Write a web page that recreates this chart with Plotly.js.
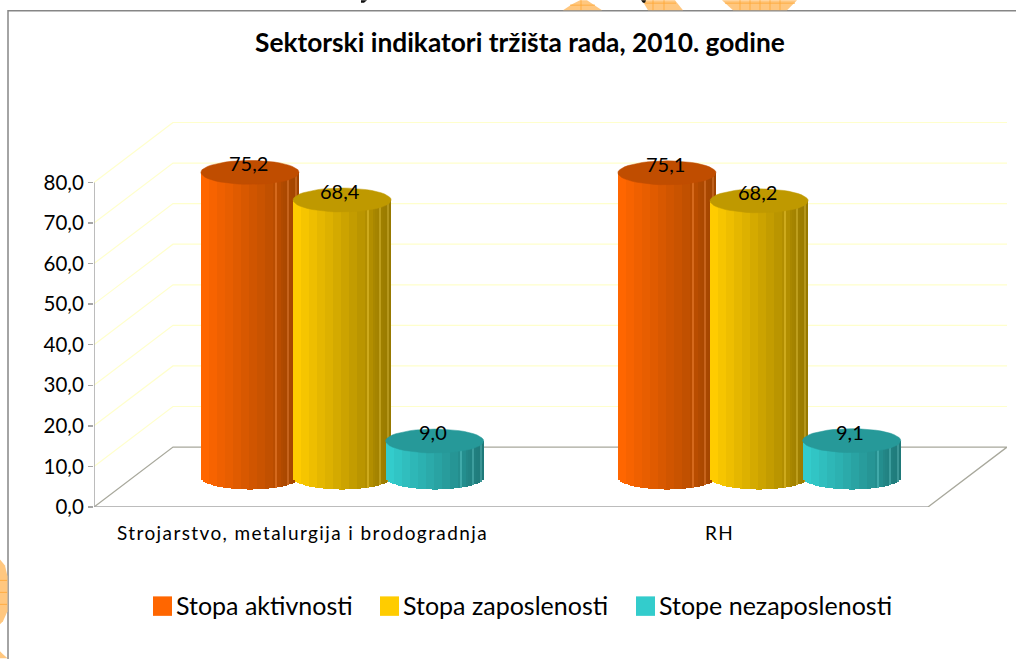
<!DOCTYPE html>
<html><head><meta charset="utf-8">
<script src="https://cdn.plot.ly/plotly-3.0.1.min.js"></script>
<style>
html,body{margin:0;padding:0;background:#fff;overflow:hidden}
.xtick text{letter-spacing:1.4px}
</style></head><body><div id="chart" style="width:1016px;height:659px"></div>
<script>
const categories = ["Strojarstvo, metalurgija i brodogradnja", "RH"];
const seriesNames = ["Stopa aktivnosti", "Stopa zaposlenosti", "Stope nezaposlenosti"];
const stopaAktivnosti = [75.2, 75.1];
const stopaZaposlenosti = [68.4, 68.2];
const stopeNezaposlenosti = [9.0, 9.1];
const yTicks = [0, 10, 20, 30, 40, 50, 60, 70, 80];
const brightColors = [[255,102,0],[255,204,0],[51,204,204]];
const darkColors = [[160,68,0],[150,120,0],[31,120,120]];
const capColors = ["#C04D00","#BF9900","#269999"];
const legendColors = ["#FF6600","#FFCC00","#33CCCC"];
const title = "Sektorski indikatori tržišta rada, 2010. godine";

const allSeries = [stopaAktivnosti, stopaZaposlenosti, stopeNezaposlenosti];
const fmt = v => v.toFixed(1).replace('.', ',');

// pixel frame of the 3D box
const L = 94, R = 1007, T = 122, B = 507.5, groupPx = 417, unitPx = 325/80;
const depthX = 79/groupPx, depthY = 60/unitPx;
const xMax = (R-L)/groupPx, yMax = (B-T)/unitPx;
const barZero = 29.5/unitPx;                 // cylinders stand mid-depth on the floor
const cylW = 98/groupPx, capH = 12/unitPx;
const offs = [0.374, 0.595, 0.817];
const px = x => (x-L)/(R-L), py = y => (B-y)/(B-T);

const traces = [];
// grid walls
const gx=[], gy=[];
yTicks.slice(1).forEach(t=>{ gx.push(0,depthX,xMax,null); gy.push(t,t+depthY,t+depthY,null); });
traces.push({type:'scatter',mode:'lines',x:gx,y:gy,line:{color:'#FFFFCC',width:1.2},hoverinfo:'skip',showlegend:false,cliponaxis:false});
// floor
traces.push({type:'scatter',mode:'lines',x:[0,depthX,xMax,2,null],y:[0,depthY,depthY,0,null],line:{color:'#A8A89C',width:1.3},hoverinfo:'skip',showlegend:false,cliponaxis:false});
// axis lines + category ticks
traces.push({type:'scatter',mode:'lines',
  x:[0,0,null,0,2,null,0,0,null,1,1,null,2,2],
  y:[0,80,null,0,0,null,0,-5/unitPx,null,0,-5/unitPx,null,0,-5/unitPx],
  line:{color:'#A6A6A6',width:1.5},hoverinfo:'skip',showlegend:false,cliponaxis:false});

// cylinders: thin bars shaded across the width
const N = 49;
const shapes = [];
const annotations = [];
allSeries.forEach((vals,s)=>{
  vals.forEach((v,g)=>{
    const xs=[],bases=[],lens=[],cols=[];
    const cx = g+offs[s];
    for(let i=0;i<N;i++){
      const u = (i+0.5)/N*2-1;
      xs.push(cx+u*cylW/2);
      const b = -capH*Math.sqrt(Math.max(0,1-u*u));
      bases.push(b); lens.push(v-b);
      let t = Math.pow((u+1)/2,0.9);
      const band = Math.floor(i/4)*4/N;
      t = i>N*0.82 ? t : band;
      let c = brightColors[s].map((a,k)=>Math.round(a+(darkColors[s][k]-a)*t));
      if(i===Math.round(N*0.76)||i===Math.round(N*0.88)||i===Math.round(N*0.95)) c=c.map(a=>Math.min(255,a+28));
      cols.push(`rgb(${c.join(',')})`);
    }
    traces.push({type:'bar',name:seriesNames[s],x:xs,y:lens,base:bases,yaxis:'y2',
      width:cylW/N*1.15,marker:{color:cols,line:{width:0}},hoverinfo:'skip',showlegend:false,cliponaxis:false});
    traces.push({type:'scatter',mode:'lines',x:ellX(cx),y:ellY(v),yaxis:'y2',fill:'toself',fillcolor:capColors[s],
      line:{color:capColors[s],width:0.5},hoverinfo:'skip',showlegend:false,cliponaxis:false});
    annotations.push({xref:'x',yref:'y2',x:cx-0.004,y:v,yshift:9,text:fmt(v),showarrow:false,
      font:{family:'Lato',size:20,color:'#000'},xanchor:'center',yanchor:'middle'});
  });
});
function ellX(cx){const a=[];for(let i=0;i<=48;i++)a.push(cx+Math.cos(i/48*2*Math.PI)*cylW/2);return a;}
function ellY(v){const a=[];for(let i=0;i<=48;i++)a.push(v+Math.sin(i/48*2*Math.PI)*capH);return a;}

// frame
shapes.push({type:'rect',xref:'paper',yref:'paper',x0:px(8),x1:px(1030),y0:py(680),y1:py(10.5),line:{color:'#868686',width:1.5},fillcolor:'rgba(0,0,0,0)',layer:'below'});
// clipped decoration outside the frame
const deco='#FFC77F', decoLine='#FFA733';
const path=(pts)=>'M'+pts.map(p=>px(p[0])+','+py(p[1])).join('L')+'Z';
[[[563,10],[572,4],[580,0],[587,0],[602,10]],[[648,10],[642,0],[675,0],[683,10]],[[733,10],[722,0],[797,0],[787,10]],[[0,560],[5,566],[7.5,577],[7.5,612],[3,622],[0,625]],[[0,652],[3,655],[7.5,659],[0,659]]].forEach(p=>{
  shapes.push({type:'path',xref:'paper',yref:'paper',path:path(p),fillcolor:deco,line:{width:0},layer:'below'});
});
[[[581,0],[581,10]],[[653,0],[653,10]],[[664,0],[664,10]],[[740,0],[740,10]],[[750,0],[750,10]],[[760,0],[760,10]],[[770,0],[770,10]],[[780,0],[780,10]],[[0,581],[7,581]],[[0,593],[7,593]],[[0,605],[7,605]],[[725,3],[795,3]],[[645,3],[676,3]],[[570,5],[595,5]]].forEach(l=>{
  shapes.push({type:'line',xref:'paper',yref:'paper',x0:px(l[0][0]),y0:py(l[0][1]),x1:px(l[1][0]),y1:py(l[1][1]),line:{color:decoLine,width:0.8},layer:'below'});
});
// fragments of cut-off text above the frame
[[[361,0],[367,0],[364,2.5],[361,2.5]],[[641,0],[646,0],[645,2.5],[643,2.5]]].forEach(p=>{
  shapes.push({type:'path',xref:'paper',yref:'paper',path:path(p),fillcolor:'#111',line:{width:0},layer:'below'});
});

// custom legend
const legendX=[153,380,636];
seriesNames.forEach((n,i)=>{
  shapes.push({type:'rect',xref:'paper',yref:'paper',x0:px(legendX[i]),x1:px(legendX[i]+19),y0:py(616.5),y1:py(597),fillcolor:legendColors[i],line:{width:0}});
  annotations.push({xref:'paper',yref:'paper',x:px(legendX[i]+21),y:py(606),text:n,showarrow:false,xanchor:'left',yanchor:'middle',
    font:{family:'Lato',size:25,color:'#000'}});
});
annotations.push({xref:'paper',yref:'paper',x:px(519.5),y:py(42),text:'<b>'+title+'</b>',showarrow:false,xanchor:'center',yanchor:'middle',
  font:{family:'Lato',size:26.3,color:'#000'}});

const layout={
  width:1016,height:659,paper_bgcolor:'#fff',plot_bgcolor:'rgba(0,0,0,0)',showlegend:false,
  margin:{l:L,r:1016-R,t:T,b:659-B,pad:0},
  xaxis:{range:[0,xMax],tickmode:'array',tickvals:[0.5,1.5],ticktext:categories,ticks:'',showgrid:false,zeroline:false,showline:false,
    tickfont:{family:'Lato',size:19,color:'#000'},ticklabelstandoff:13},
  yaxis:{range:[0,yMax],tickmode:'array',tickvals:yTicks,ticktext:yTicks.map(fmt),ticks:'outside',ticklen:5,tickcolor:'#A6A6A6',tickwidth:1.5,
    showgrid:false,zeroline:false,showline:false,tickfont:{family:'Lato',size:20.5,color:'#000'},ticklabelstandoff:0},
  yaxis2:{overlaying:'y',anchor:'x',side:'left',range:[-barZero,yMax-barZero],visible:false},
  barmode:'overlay',bargap:0,
  shapes,annotations
};
Plotly.newPlot('chart',traces,layout,{displayModeBar:false,staticPlot:true});
</script></body></html>
